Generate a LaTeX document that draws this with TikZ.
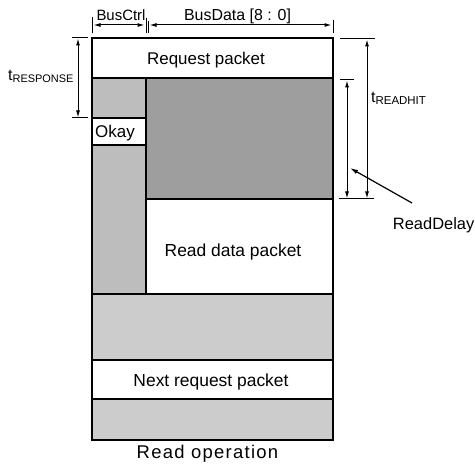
\documentclass[tikz,border=0pt]{standalone}
\usepackage{fontspec}
\setmainfont{Liberation Sans}
\usetikzlibrary{arrows.meta}
\newcommand{\fsz}[1]{\fontsize{#1}{#1}\selectfont}
\begin{document}
\begin{tikzpicture}[x=1bp,y=-1bp,
  lbl/.style={inner sep=0pt, anchor=base},
  heavy/.style={line width=2.2bp, line cap=rect},
  outer/.style={line width=2.8bp},
  dim/.style={line width=1bp},
  dimarr/.style={dim, {Latex[length=7bp,width=4bp]}-{Latex[length=7bp,width=4bp]}},
  ptr/.style={line width=1.2bp, -{Latex[length=8bp,width=4.5bp]}},
  shadeD/.style={fill=black!38},
  shadeM/.style={fill=black!26},
  shadeL/.style={fill=black!20}]
\useasboundingbox (0,0) rectangle (475,465);
% shaded regions
\fill[shadeM] (92,78) rectangle (146,118);
\fill[shadeM] (92,145) rectangle (146,294);
\fill[shadeD] (146,78) rectangle (333,199);
\fill[shadeL] (92,294) rectangle (333,360);
\fill[shadeL] (92,399) rectangle (333,440);
% inner lines
\draw[heavy] (92,78) -- (333,78);
\draw[heavy] (92,118) -- (146,118);
\draw[heavy] (92,145) -- (146,145);
\draw[heavy] (146,78) -- (146,294);
\draw[heavy] (146,199) -- (333,199);
\draw[heavy] (92,294) -- (333,294);
\draw[heavy] (92,360) -- (333,360);
\draw[heavy] (92,399) -- (333,399);
\draw[outer] (92,38) rectangle (333,440);
% texts in boxes
\node[lbl, font=\fsz{17}] (req) at (206,65) {Request packet};
\node[lbl, font=\fsz{17}, anchor=base west] (okay) at (95,138) {Okay};
\node[lbl, font=\fsz{17.5}] (rdp) at (233,256) {Read data packet};
\node[lbl, font=\fsz{17.5}] (nrp) at (211,386) {Next request packet};
\node[lbl, font={\fsz{18.5}\addfontfeature{LetterSpace=7}}] (rop) at (207.5,458) {Read operation};
% top dimensions
\coordinate (tA1) at (92,17);  \coordinate (tA2) at (92,33);
\coordinate (tB1) at (146,18); \coordinate (tB2) at (146,33);
\coordinate (tC1) at (148,21); \coordinate (tC2) at (148,33);
\coordinate (tD1) at (333,20); \coordinate (tD2) at (333,33);
\draw[dim] (tA1) -- (tA2);
\draw[dim] (tB1) -- (tB2);
\draw[dim] (tC1) -- (tC2);
\draw[dim] (tD1) -- (tD2);
\coordinate (bcL) at (93.5,25); \coordinate (bcR) at (144.5,25);
\coordinate (bdL) at (149.5,25); \coordinate (bdR) at (331.5,25);
\draw[dimarr] (bcL) -- (bcR);
\draw[dimarr] (bdL) -- (bdR);
\node[lbl, font=\fsz{15}] (busctrl) at (121,21) {BusCtrl};
\node[lbl, font=\fsz{16}] (busdata) at (237.5,21) {BusData [8 : 0]};
% left dimension
\coordinate (lT1) at (72,38);  \coordinate (lT2) at (88,38);
\coordinate (lB1) at (72,118); \coordinate (lB2) at (88,118);
\draw[dim] (lT1) -- (lT2);
\draw[dim] (lB1) -- (lB2);
\coordinate (lA1) at (78,38.5); \coordinate (lA2) at (78,117.5);
\draw[dimarr] (lA1) -- (lA2);
\node[lbl, anchor=base west, font=\fsz{16}] (tresp) at (8,81)
  {t{\fsz{11}\raisebox{-2bp}{RESPONSE}}};
% right dimensions
\coordinate (rT1) at (340,39);  \coordinate (rT2) at (375,39);
\coordinate (rM1) at (340,80);  \coordinate (rM2) at (354,80);
\coordinate (rB1) at (339,199); \coordinate (rB2) at (374,199);
\draw[dim] (rT1) -- (rT2);
\draw[dim] (rM1) -- (rM2);
\draw[dim] (rB1) -- (rB2);
\coordinate (hA1) at (367,39.5); \coordinate (hA2) at (367,198.5);
\draw[dimarr] (hA1) -- (hA2);
\coordinate (dA1) at (347,80.5); \coordinate (dA2) at (347,198.5);
\draw[dimarr] (dA1) -- (dA2);
\node[lbl, anchor=base west, font=\fsz{16}] (treadhit) at (371,103)
  {t{\fsz{11.5}\raisebox{-2bp}{READHIT}}};
\node[lbl, anchor=base east, font=\fsz{16.5}] (readdelay) at (474.5,230) {ReadDelay};
\coordinate (pS) at (412,203);
\coordinate (pE) at (350,168);
\draw[ptr] (pS) -- (pE);
\end{tikzpicture}
\end{document}
